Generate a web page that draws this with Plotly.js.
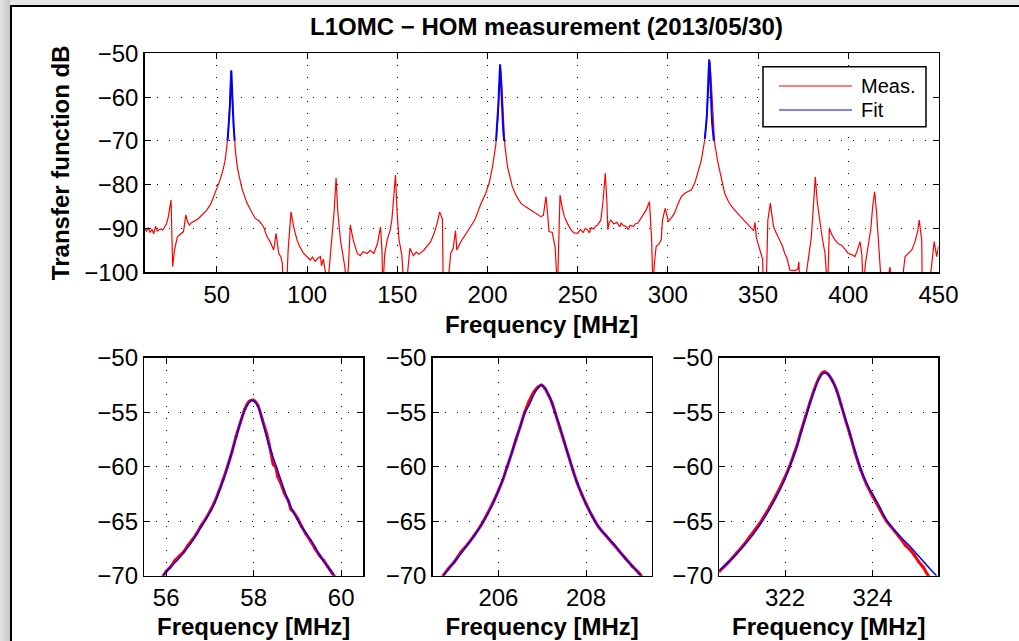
<!DOCTYPE html>
<html>
<head>
<meta charset="utf-8">
<script src="https://cdn.plot.ly/plotly-3.0.1.min.js"></script>
<style>
  html, body { margin:0; padding:0; width:1019px; height:641px; overflow:hidden; background:#e6e6e6; }
  #strip { position:absolute; left:0; top:0; width:10px; height:641px; background:linear-gradient(to right, #e2e2e2, #c6c6c6); }
  #frame { position:absolute; left:10px; top:5px; width:1007px; height:634px; border-left:2px solid #000; border-top:2px solid #000; background:#fff; }
  #plot { width:1007px; height:634px; }
</style>
</head>
<body>
<div id="strip"></div>
<div id="frame"><div id="plot"></div></div>
<script>
// ---------------- DATA ----------------
// Overview measurement (Frequency MHz, Transfer function dB)
const measFreq = [10,11,12,13,14,15,16,17,18,19,20,21,22,23,24,24.6,25.5,26.5,28.1,30,31.5,32.8,33.8,34.8,36,38,39.8,42,44.4,46.5,48.1,50,51.8,53.5,54.6,55.5,56.5,57.3,57.8,58.3,59,60.2,61,62,64,66.7,69,71.3,73.5,75.9,77.8,79.5,81.5,82.8,84.3,85.5,86.3,86.8,88.5,89.5,91.1,92.5,94.4,96,98.1,100,101.8,103,104.5,106,107.4,108,109,110,111,112,113,113.9,115,116.1,117,118.5,120,121,122,123,124,125.5,127.8,129.5,131,133.3,135,137,139,140.7,141.5,142,143,144.4,146,147,148,149,150,151,152.5,153.8,155.5,157,159,160.5,162,164.8,167,168.5,170.4,172,173.5,175,175.5,177.8,179.6,181,182.3,183,185,187,189,190.7,193,196.3,199,201,202.8,204.6,205.8,206.6,207.2,207.8,208.6,209.6,211.1,212.5,213.8,216,218.5,221,224,227,229.6,231,232.4,233.2,234.1,235.9,237.5,238.8,239.5,240.2,241.3,242.6,244.5,246.3,248,250,251.5,253,254.2,255.5,256.5,257.5,259,260,261,262.8,264,265.3,266.2,266.7,267.5,268.3,270,271.7,273.3,274.2,275,277,278,279,281,282,283.3,285.5,287.9,289.8,290.5,291,291.7,292.5,293.5,295,296.3,297,298.5,299.5,300.3,302,303.7,305.5,307.4,309.5,311,313,315,316.6,318.5,320.4,321.5,322.5,323.2,323.8,324.8,325.9,327.8,329.5,331.5,333.5,335,337,339,340.5,342.6,344,346,347.5,348.3,349,350,351,352.5,353,354.5,355.4,356.8,357.5,358.6,360,362,363.5,364.8,366,367.6,369,370.5,372,372.6,373.2,376,377,378,379.5,380.8,381.7,382.8,384.3,385.5,387.1,388.5,389.5,391,392.6,394.5,396.3,398,400,401.5,403.7,405,406.5,407.5,408.3,409.5,411.1,412.5,413.5,414.6,415.6,416.7,417.5,418.5,421,422.5,423.1,424,427,429.6,430.5,431.5,433,435.2,437,438.5,439.3,440.2,440.7,441,444,445.9,447,447.6,449,450];
const measDb = [-90.0,-90.6,-89.8,-90.9,-90.2,-91.2,-89.5,-90.6,-90.3,-90.1,-90.4,-89.8,-89.0,-87.5,-85.0,-83.5,-98.7,-95.0,-91.9,-91.3,-90.7,-86.9,-88.5,-89.2,-88.6,-88.2,-87.7,-86.8,-85.8,-84.5,-82.7,-81.0,-78.9,-76.5,-74.4,-71.3,-66.5,-60.0,-54.5,-58.0,-64.5,-72.0,-75.0,-77.4,-81.0,-84.2,-86.0,-87.7,-88.3,-89.6,-91.9,-93.0,-94.9,-91.1,-95.7,-96.5,-98.0,-105,-105,-95.0,-86.2,-89.5,-92.6,-94.2,-95.7,-96.5,-97.2,-96.5,-97.5,-96.8,-96.4,-98.5,-97.0,-99.5,-101.5,-100.5,-96.0,-92.6,-86.0,-78.5,-86.0,-92.6,-96.0,-99.0,-104,-98.0,-89.2,-92.5,-95.7,-96.2,-95.3,-95.7,-95.0,-95.7,-93.5,-89.6,-95.0,-104,-96.0,-92.6,-90.5,-88.0,-83.0,-77.8,-87.0,-92.6,-96.0,-104,-101,-94.5,-96.2,-95.4,-95.9,-94.9,-93.8,-93.0,-91.1,-89.0,-86.2,-87.8,-104,-104,-95.7,-94.5,-90.5,-94.9,-93.2,-91.9,-90.5,-89.6,-88.0,-84.4,-82.0,-79.5,-75.9,-70.9,-65.0,-58.0,-53.5,-56.0,-64.0,-70.9,-75.9,-78.5,-80.5,-82.6,-84.2,-85.0,-85.8,-86.7,-87.3,-87.0,-82.7,-86.0,-90.7,-90.9,-94.3,-104,-90.0,-82.4,-85.0,-87.3,-89.0,-90.3,-91.0,-91.1,-90.2,-90.9,-90.0,-90.3,-91.0,-89.8,-90.1,-89.4,-89.2,-88.1,-84.0,-77.4,-84.0,-90.3,-88.5,-88.1,-88.9,-88.6,-89.6,-88.7,-89.2,-89.6,-90.2,-89.3,-89.5,-88.9,-88.8,-87.5,-85.8,-83.9,-88.0,-92.6,-104,-98.0,-94.1,-93.5,-92.6,-88.1,-85.4,-87.5,-88.4,-87.5,-86.5,-84.5,-82.7,-81.9,-81.6,-81.2,-79.5,-77.4,-74.5,-69.8,-64.5,-57.5,-52.0,-54.5,-63.0,-70.5,-75.1,-78.5,-82.0,-83.8,-84.8,-85.8,-86.7,-87.2,-88.1,-88.8,-89.6,-90.5,-88.6,-92.0,-93.5,-94.9,-97.0,-104,-104,-88.1,-84.2,-86.5,-89.6,-91.0,-92.6,-94.0,-95.7,-96.8,-99.5,-99.5,-99.6,-99.3,-97.6,-104,-101.5,-99.5,-96.4,-92.0,-84.0,-78.2,-84.0,-88.8,-92.0,-95.7,-104,-90.0,-91.5,-92.6,-93.5,-93.8,-94.8,-95.7,-95.9,-96.4,-95.0,-93.0,-96.0,-104,-98.0,-94.1,-90.0,-85.0,-81.6,-86.0,-92.6,-96.0,-104,-104,-100.5,-98.8,-102,-104,-103,-99.0,-96.4,-95.8,-94.9,-93.0,-90.5,-88.1,-91.0,-92.6,-104,-104,-99.5,-96.0,-93.0,-96.4,-94.1];

// Peak 1 (~58 MHz)
const fit1Freq = [55.93,56.10,56.25,56.39,56.55,56.70,56.85,57.00,57.10,57.20,57.30,57.40,57.50,57.60,57.70,57.80,57.88,57.95,58.02,58.10,58.20,58.29,58.40,58.52,58.63,58.75,58.90,59.05,59.20,59.35,59.44,59.55,59.70,59.85];
const fit1Db   = [-70.0,-69.2,-68.6,-67.95,-67.1,-66.2,-65.2,-64.2,-63.4,-62.4,-61.3,-60.1,-58.7,-57.3,-55.9,-54.8,-54.2,-53.9,-54.0,-54.5,-55.8,-57.2,-58.6,-60.0,-61.3,-62.7,-64.1,-65.2,-66.1,-67.0,-67.6,-68.4,-69.2,-70.0];
const meas1Freq = [55.9,56.0,56.1,56.2,56.3,56.4,56.5,56.6,56.7,56.8,56.9,57.0,57.1,57.2,57.3,57.4,57.5,57.6,57.7,57.8,57.9,58.0,58.1,58.2,58.3,58.35,58.4,58.45,58.5,58.55,58.6,58.7,58.8,58.85,58.9,59.0,59.05,59.1,59.2,59.3,59.4,59.5,59.6,59.7,59.8,59.9];
const meas1Db   = [-70.2,-69.6,-69.2,-68.6,-68.2,-67.8,-67.2,-66.7,-66.1,-65.4,-64.8,-64.1,-63.3,-62.3,-61.2,-60.0,-58.7,-57.2,-55.9,-54.7,-54.0,-53.9,-54.4,-55.7,-57.0,-57.9,-58.8,-59.8,-60.0,-60.9,-61.3,-62.4,-63.2,-63.9,-64.1,-64.7,-65.1,-65.5,-66.2,-66.8,-67.5,-68.1,-68.6,-69.2,-69.8,-70.3];

// Peak 2 (~207 MHz)
const fit2Freq = [204.74,204.9,205.1,205.27,205.45,205.6,205.72,205.85,206.0,206.1,206.2,206.3,206.4,206.5,206.6,206.72,206.82,206.9,206.98,207.05,207.12,207.2,207.3,207.4,207.47,207.57,207.67,207.77,207.9,208.0,208.15,208.3,208.5,208.68,208.85,209.05,209.25];
const fit2Db   = [-70.0,-69.2,-68.2,-67.3,-66.3,-65.4,-64.6,-63.6,-62.2,-61.2,-60.0,-58.8,-57.5,-56.3,-55.1,-54.2,-53.3,-52.8,-52.5,-52.7,-53.2,-53.9,-55.1,-56.3,-57.2,-58.6,-59.9,-61.2,-62.5,-63.4,-64.6,-65.6,-66.5,-67.3,-68.2,-69.1,-70.0];
const meas2Freq = [204.7,204.85,205.0,205.15,205.3,205.45,205.6,205.75,205.9,206.0,206.1,206.2,206.3,206.4,206.5,206.6,206.7,206.8,206.9,206.98,207.06,207.14,207.22,207.3,207.4,207.5,207.6,207.7,207.8,207.9,208.0,208.15,208.3,208.45,208.6,208.75,208.9,209.05,209.2,209.3];
const meas2Db   = [-70.2,-69.4,-68.7,-67.8,-67.1,-66.3,-65.4,-64.3,-63.1,-62.2,-61.2,-60.0,-58.8,-57.5,-56.3,-55.0,-54.0,-53.2,-52.7,-52.5,-52.8,-53.4,-54.1,-55.1,-56.4,-57.7,-59.0,-60.3,-61.5,-62.5,-63.4,-64.6,-65.6,-66.3,-67.0,-67.7,-68.4,-69.1,-69.7,-70.2];

// Peak 3 (~323 MHz)
const fit3Freq = [320.5,320.7,320.9,321.05,321.2,321.35,321.5,321.65,321.8,321.96,322.1,322.2,322.27,322.37,322.47,322.57,322.67,322.77,322.85,322.91,322.98,323.08,323.18,323.28,323.38,323.48,323.6,323.73,323.86,324.0,324.15,324.32,324.5,324.68,324.85,325.05,325.25,325.46];
const fit3Db   = [-69.5,-68.8,-68.0,-67.3,-66.6,-65.8,-64.9,-63.9,-62.8,-61.5,-60.1,-59.0,-58.2,-56.8,-55.5,-54.2,-53.0,-52.0,-51.5,-51.4,-51.5,-52.1,-53.0,-54.3,-55.6,-56.9,-58.6,-60.2,-61.5,-62.5,-63.6,-64.9,-65.8,-66.6,-67.3,-68.2,-69.1,-70.0];
const meas3Freq = [320.5,320.7,320.9,321.05,321.2,321.35,321.5,321.65,321.8,321.96,322.1,322.2,322.27,322.37,322.47,322.57,322.67,322.77,322.85,322.91,322.98,323.08,323.18,323.28,323.38,323.48,323.6,323.73,323.86,324.0,324.15,324.32,324.5,324.6,324.68,324.75,324.85,324.95,325.05,325.15,325.27,325.35];
const meas3Db   = [-69.6,-68.8,-67.9,-67.2,-66.4,-65.6,-64.7,-63.7,-62.6,-61.3,-60.0,-58.9,-58.1,-56.7,-55.4,-54.1,-52.9,-51.9,-51.4,-51.3,-51.5,-52.1,-53.0,-54.3,-55.7,-57.0,-58.7,-60.3,-61.6,-62.7,-63.8,-65.0,-65.9,-66.4,-66.8,-67.2,-67.6,-68.1,-68.7,-69.2,-70.0,-70.5];

// Text
const titleText = 'L1OMC − HOM measurement (2013/05/30)';
const xTitle = 'Frequency [MHz]';
const yTitle = 'Transfer function dB';
const legendNames = ['Meas.', 'Fit'];

// ---------------- PLOT ----------------
const FONT = 'Liberation Sans, Arial, Helvetica, sans-serif';
const W = 1007, H = 634, OX = 12, OY = 7;
const px = x => (x - OX) / W;
const py = y => 1 - (y - OY) / H;

const RED = '#ff0000', BLUE = '#0000ff';

const fitAll = {
  x: [...fit1Freq, null, ...fit2Freq, null, ...fit3Freq],
  y: [...fit1Db, null, ...fit2Db, null, ...fit3Db]
};

const traces = [
  {x: measFreq, y: measDb, xaxis:'x', yaxis:'y', mode:'lines', name: legendNames[0], showlegend:false,
   line:{color:RED, width:1.2}},
  {x: fitAll.x, y: fitAll.y, xaxis:'x', yaxis:'y', mode:'lines', name: legendNames[1], showlegend:false,
   connectgaps:false, line:{color:BLUE, width:2}},
  {x: meas1Freq, y: meas1Db, xaxis:'x2', yaxis:'y2', mode:'lines+markers', showlegend:false,
   line:{color:RED, width:3, shape:'spline', smoothing:0.8}, marker:{color:RED, size:3}},
  {x: fit1Freq, y: fit1Db, xaxis:'x2', yaxis:'y2', mode:'lines', showlegend:false, line:{color:BLUE, width:1.5, shape:'spline'}},
  {x: meas2Freq, y: meas2Db, xaxis:'x3', yaxis:'y3', mode:'lines+markers', showlegend:false,
   line:{color:RED, width:3, shape:'spline', smoothing:0.8}, marker:{color:RED, size:3}},
  {x: fit2Freq, y: fit2Db, xaxis:'x3', yaxis:'y3', mode:'lines', showlegend:false, line:{color:BLUE, width:1.5, shape:'spline'}},
  {x: meas3Freq, y: meas3Db, xaxis:'x4', yaxis:'y4', mode:'lines+markers', showlegend:false,
   line:{color:RED, width:3, shape:'spline', smoothing:0.8}, marker:{color:RED, size:3}},
  {x: fit3Freq, y: fit3Db, xaxis:'x4', yaxis:'y4', mode:'lines', showlegend:false, line:{color:BLUE, width:1.5, shape:'spline'}}
];

function ax(extra) {
  return Object.assign({
    showline:true, linecolor:'#000', linewidth:1.5, mirror:'ticks',
    ticks:'inside', ticklen:6, tickwidth:1, tickcolor:'#000',
    showgrid:true, gridcolor:'#000', gridwidth:1, griddash:'1px,11px',
    zeroline:false, tickfont:{family:FONT, size:24, color:'#000'},
    fixedrange:true
  }, extra);
}
const xt = (standoff) => ({text:xTitle, font:{family:FONT, size:24, color:'#000', weight:'bold'}, standoff:standoff});

const layout = {
  width:W, height:H, margin:{l:0, r:0, t:0, b:0},
  paper_bgcolor:'#fff', plot_bgcolor:'#fff', showlegend:false,
  font:{family:FONT, color:'#000'},
  title:{text:'<b>'+titleText+'</b>', font:{family:FONT, size:24, color:'#000'},
         x:px(546.5), y:py(27), xref:'paper', yref:'paper', xanchor:'center', yanchor:'middle'},
  xaxis: ax({domain:[px(144.7), px(938.5)], range:[10,450], dtick:50, tick0:0, anchor:'y', title:xt(9)}),
  yaxis: ax({domain:[py(272.3), py(53.3)], range:[-100,-50], dtick:10, anchor:'x',
             title:{text:yTitle, font:{family:FONT, size:24, color:'#000', weight:'bold'}, standoff:8}}),
  xaxis2: ax({domain:[px(144.3), px(363)], range:[55.5,60.5], dtick:2, tick0:0, anchor:'y2', title:xt(8)}),
  yaxis2: ax({domain:[py(575.7), py(357.7)], range:[-70,-50], dtick:5, anchor:'x2'}),
  xaxis3: ax({domain:[px(432.7), px(651.7)], range:[204.5,209.5], dtick:2, tick0:0, anchor:'y3', title:xt(8)}),
  yaxis3: ax({domain:[py(575.7), py(357.7)], range:[-70,-50], dtick:5, anchor:'x3'}),
  xaxis4: ax({domain:[px(719.3), px(938.3)], range:[320.5,325.5], dtick:2, tick0:0, anchor:'y4', title:xt(8)}),
  yaxis4: ax({domain:[py(575.7), py(357.7)], range:[-70,-50], dtick:5, anchor:'x4'}),
  shapes:[
    {type:'rect', xref:'paper', yref:'paper', x0:px(763), x1:px(926), y0:py(126.7), y1:py(66.7),
     line:{color:'#000', width:1.5}, fillcolor:'#fff', layer:'above'},
    {type:'line', xref:'paper', yref:'paper', x0:px(779), x1:px(852), y0:py(86), y1:py(86), line:{color:RED, width:1.2}, layer:'above'},
    {type:'line', xref:'paper', yref:'paper', x0:px(779), x1:px(852), y0:py(110), y1:py(110), line:{color:BLUE, width:1.2}, layer:'above'}
  ],
  annotations:[
    {text:legendNames[0], xref:'paper', yref:'paper', x:px(859), y:py(86), xanchor:'left', yanchor:'middle', showarrow:false,
     font:{family:FONT, size:20, color:'#000'}},
    {text:legendNames[1], xref:'paper', yref:'paper', x:px(859), y:py(110), xanchor:'left', yanchor:'middle', showarrow:false,
     font:{family:FONT, size:20, color:'#000'}}
  ]
};

Plotly.newPlot('plot', traces, layout, {staticPlot:true, displayModeBar:false});
</script>
</body>
</html>
